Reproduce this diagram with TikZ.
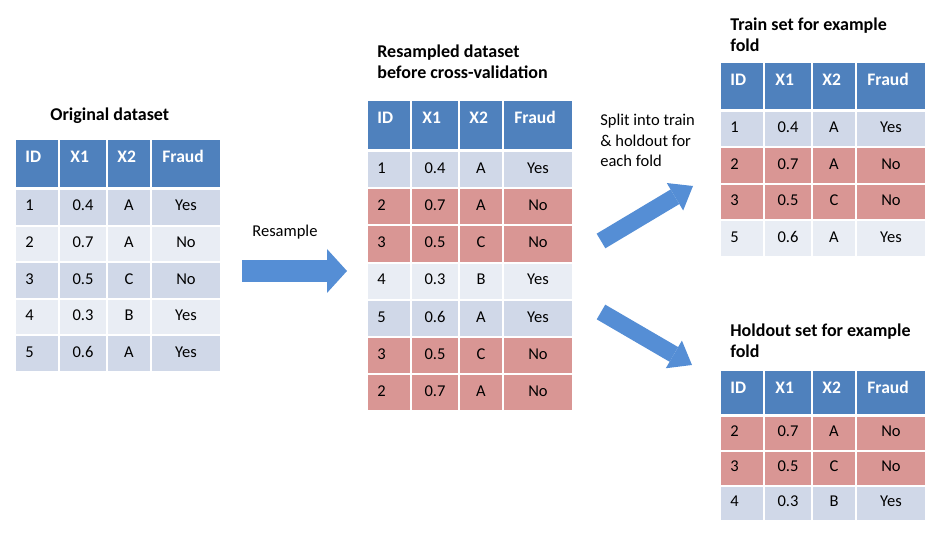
\documentclass[tikz,border=0pt]{standalone}
\usepackage{fontspec}
\setmainfont{Carlito}
\usetikzlibrary{arrows.meta}

\definecolor{hdrblue}{HTML}{4F81BD}
\definecolor{rowa}{HTML}{D0D8E8}
\definecolor{rowb}{HTML}{E9EDF4}
\definecolor{rowred}{HTML}{D99694}
\definecolor{arrowblue}{HTML}{558ED5}

\tikzset{
  celltext/.style={font=\fontsize{9.4}{11.9}\selectfont, inner sep=0pt, anchor=base},
  hdrtext/.style={celltext, font=\fontsize{10}{12}\selectfont\bfseries, text=white, anchor=base west},
  title/.style={celltext, font=\fontsize{10.25}{12}\selectfont\bfseries, anchor=base west, align=left},
  note/.style={celltext, anchor=base west, align=left},
  bigarrow/.style={draw=arrowblue, line width=0.44cm, -{Triangle[length=0.4cm, width=0.88cm, line width=0pt]}},
  slantarrow/.style={draw=arrowblue, line width=0.34cm, -{Triangle[length=0.42cm, width=0.64cm, line width=0pt]}}
}

\begin{document}
\begin{tikzpicture}[x=0.02cm, y=-0.02cm]
\useasboundingbox (0,0) rectangle (948,553);

% the four tables
\foreach \tn/\tx/\ty/\hh/\rh/\rows in {
  orig/15/140/47/36.6/{1/0.4/A/Yes/rowa, 2/0.7/A/No/rowb, 3/0.5/C/No/rowa, 4/0.3/B/Yes/rowb, 5/0.6/A/Yes/rowa},
  resamp/367/101/48/37.2/{1/0.4/A/Yes/rowa, 2/0.7/A/No/rowred, 3/0.5/C/No/rowred, 4/0.3/B/Yes/rowb, 5/0.6/A/Yes/rowa, 3/0.5/C/No/rowred, 2/0.7/A/No/rowred},
  train/720/63/46/36.5/{1/0.4/A/Yes/rowa, 2/0.7/A/No/rowred, 3/0.5/C/No/rowred, 5/0.6/A/Yes/rowb},
  hold/720/371/43/35/{2/0.7/A/No/rowred, 3/0.5/C/No/rowred, 4/0.3/B/Yes/rowa}}{
  % header
  \foreach \cl/\cr/\h/\hx in {0/44/ID/10, 44/92/X1/55, 92/136/X2/102, 136/206/Fraud/147}{
    \fill[hdrblue] ({\tx+\cl+1},\ty) rectangle ({\tx+\cr-1},{\ty+\hh});
    \node[hdrtext] (\tn-h-\h) at ({\tx+\hx},{\ty+23}) {\h};
  }
  % rows
  \foreach \id/\xa/\xb/\fr/\rc [count=\i] in \rows {
    \pgfmathsetmacro\rt{\ty+\hh+2+(\i-1)*\rh}
    \foreach \cl/\cr in {0/44, 44/92, 92/136, 136/206}
      \fill[\rc] ({\tx+\cl+1},{\rt+1}) rectangle ({\tx+\cr-1},{\rt+\rh-1});
    \node[celltext, anchor=base west] (\tn-\i-id) at ({\tx+10},{\rt+0.6*\rh}) {\id};
    \node[celltext] (\tn-\i-xa) at ({\tx+68},{\rt+0.6*\rh}) {\xa};
    \node[celltext] (\tn-\i-xb) at ({\tx+114},{\rt+0.6*\rh}) {\xb};
    \node[celltext] (\tn-\i-fr) at ({\tx+171},{\rt+0.6*\rh}) {\fr};
  }
}

% titles and labels (base = last line)
\node[title] (orig-title) at (50,121) {Original dataset};
\node[title] (resamp-title) at (377,79) {Resampled dataset\\before cross-validation};
\node[title] (train-title) at (730,52) {Train set for example\\fold};
\node[title] (hold-title) at (730,358) {Holdout set for example\\fold};
\node[note] (resample-lbl) at (252,237) {Resample};
\node[note] (split-lbl) at (600,167) {Split into train\\\& holdout for\\each fold};

% arrows
\coordinate (rs-a) at (242,271);
\coordinate (rs-b) at (347,271);
\coordinate (tr-a) at (601,241);
\coordinate (tr-b) at (693,186);
\coordinate (ho-a) at (601,312);
\coordinate (ho-b) at (692,365);
\draw[bigarrow] (rs-a) -- (rs-b);
\draw[slantarrow] (tr-a) -- (tr-b);
\draw[slantarrow] (ho-a) -- (ho-b);
\end{tikzpicture}
\end{document}
